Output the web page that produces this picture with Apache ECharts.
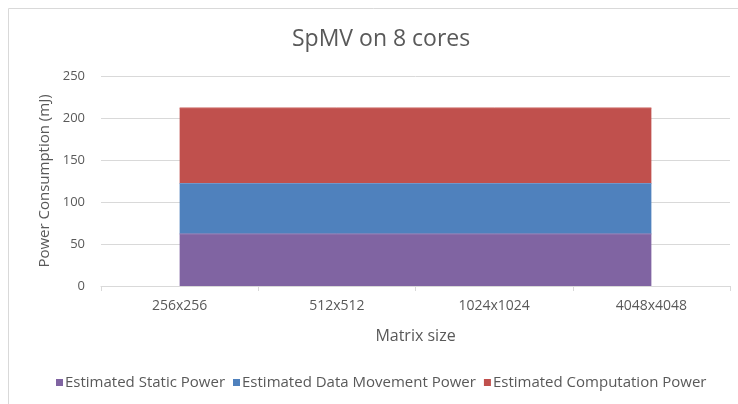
<!DOCTYPE html>
<html lang="en">
<head>
    <meta charset="UTF-8">
    <title>SpMV on 8 cores</title>
    <script src="https://cdn.jsdelivr.net/npm/echarts@6/dist/echarts.min.js"></script>
    <style>
        html, body { margin: 0; padding: 0; background: #fff; }
        #box { width: 738px; height: 404px; }
    </style>
</head>
<body>
    <div id="box"></div>
    <script>
        // data
        const categories = ['256x256', '512x512', '1024x1024', '4048x4048']
        const staticPower = [62, 62, 62, 62]
        const dataMovementPower = [60, 60, 60, 60]
        const computationPower = [90, 90, 90, 90]
        const yTicks = [0, 50, 100, 150, 200, 250]

        const font = '"Open Sans", sans-serif'
        const textColor = '#595959'

        function areaSeries(name, data, color, edge) {
            return {
                name: name,
                type: 'line',
                stack: 'total',
                data: data,
                symbol: 'none',
                lineStyle: { width: 1, color: edge },
                areaStyle: { color: color, opacity: 1 },
                itemStyle: { color: color }
            }
        }

        var myChart = echarts.init(document.getElementById('box'))
        var option = {
            animation: false,
            title: {
                text: 'SpMV on 8 cores',
                left: 287,
                top: 23,
                textStyle: { fontFamily: font, fontSize: 23, fontWeight: 'normal', color: textColor }
            },
            legend: {
                bottom: 9,
                left: 51,
                itemWidth: 7,
                itemHeight: 7,
                itemGap: 8,
                icon: 'rect',
                textStyle: { fontFamily: font, fontSize: 15, color: textColor, padding: [0, 0, 0, -3] },
                data: ['Estimated Static Power', 'Estimated Data Movement Power', 'Estimated Computation Power']
            },
            grid: { left: 101, right: 8, top: 76, bottom: 118 },
            xAxis: {
                type: 'category',
                data: categories,
                boundaryGap: true,
                name: 'Matrix size',
                nameLocation: 'middle',
                nameGap: 42,
                nameTextStyle: { fontFamily: font, fontSize: 16, color: textColor },
                axisLine: { lineStyle: { color: '#d9d9d9' } },
                axisTick: { show: true, alignWithLabel: false, length: 5, lineStyle: { color: '#d9d9d9' } },
                axisLabel: { fontFamily: font, fontSize: 14, color: textColor, margin: 13 }
            },
            yAxis: {
                type: 'value',
                min: yTicks[0],
                max: yTicks[yTicks.length - 1],
                interval: 50,
                name: 'Power Consumption (mJ)',
                nameLocation: 'middle',
                nameGap: 48,
                nameTextStyle: { fontFamily: font, fontSize: 15, color: textColor },
                axisLine: { show: false },
                axisTick: { show: false },
                axisLabel: { fontFamily: font, fontSize: 13, color: textColor, margin: 16 },
                splitLine: { lineStyle: { color: '#d9d9d9' } }
            },
            graphic: [{
                type: 'rect',
                shape: { x: 8.5, y: 8.5, width: 760, height: 420 },
                style: { fill: 'none', stroke: '#d9d9d9', lineWidth: 1 },
                silent: true
            }],
            series: [
                areaSeries('Estimated Static Power', staticPower, '#8064A2', '#9c86b8'),
                areaSeries('Estimated Data Movement Power', dataMovementPower, '#4F81BD', '#6f98cc'),
                areaSeries('Estimated Computation Power', computationPower, '#C0504D', '#cf716e')
            ]
        }
        myChart.setOption(option)
    </script>
</body>
</html>
